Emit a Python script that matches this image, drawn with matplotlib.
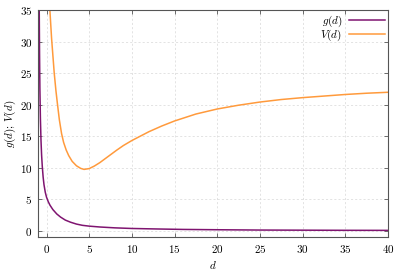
import matplotlib
matplotlib.use('Agg')
import matplotlib.pyplot as plt

plt.rcParams['font.family'] = 'cmr10'
plt.rcParams['mathtext.fontset'] = 'cm'
plt.rcParams['axes.formatter.use_mathtext'] = True

# values
g_d = [-0.857, -0.82, -0.78, -0.72, -0.65, -0.58, -0.5, -0.4, -0.3, -0.15, 0.0,
       0.2, 0.4, 0.74, 1.2, 1.65, 2.2, 2.8, 3.5, 4.2, 5.0, 6.3, 8.0, 10.0,
       13.0, 16.0, 20.0, 25.0, 30.0, 35.0, 40.0]
g_val = [35.0, 28.0, 22.5, 17.8, 14.3, 12.0, 10.2, 8.5, 7.3, 6.1, 5.3,
         4.6, 4.05, 3.35, 2.65, 2.15, 1.68, 1.35, 1.05, 0.85, 0.72, 0.58, 0.45, 0.35,
         0.27, 0.2, 0.15, 0.1, 0.08, 0.06, 0.05]

v_d = [0.39, 0.59, 0.9, 1.1, 1.26, 1.5, 1.76, 2.0, 2.3, 2.6, 3.0, 3.5, 4.0, 4.4,
       5.0, 5.6, 6.25, 6.9, 7.5, 8.2, 9.0, 10.0, 11.0, 12.0, 13.5, 15.0, 17.5, 20.0,
       22.5, 25.0, 27.5, 30.0, 32.5, 35.0, 37.5, 40.0]
v_val = [35.0, 30.5, 25.0, 22.2, 20.3, 17.6, 15.4, 14.0, 12.8, 11.9, 11.0, 10.3, 9.88, 9.72,
         9.85, 10.25, 10.8, 11.45, 12.05, 12.75, 13.5, 14.3, 15.0, 15.7, 16.6, 17.4, 18.5, 19.3,
         19.9, 20.4, 20.8, 21.1, 21.35, 21.6, 21.8, 21.95]

x_ticks = [0, 5, 10, 15, 20, 25, 30, 35, 40]
y_ticks = [0, 5, 10, 15, 20, 25, 30, 35]

purple = '#7f1470'
orange = '#ff9a3c'

fig = plt.figure(figsize=(4.07, 2.71), dpi=100)
ax = fig.add_axes([0.0934, 0.1255, 0.8596, 0.8376])

ax.plot(g_d, g_val, color=purple, lw=1.1, label='$g(d)$')
ax.plot(v_d, v_val, color=orange, lw=1.1, label='$V(d)$')

ax.set_xlim(-1, 40)
ax.set_ylim(-1, 35)
ax.set_xticks(x_ticks)
ax.set_yticks(y_ticks)
ax.tick_params(direction='in', top=True, right=True, labelsize=8,
               length=3, width=0.6, color='#555555', pad=4)
for s in ax.spines.values():
    s.set_color('#555555')
    s.set_linewidth(0.8)

ax.grid(True, ls=(0, (3, 3)), lw=0.5, color='#d8d8d8')
ax.set_axisbelow(True)

ax.set_xlabel('$d$', fontsize=8, labelpad=3)
ax.set_ylabel('$g(d)$; $V(d)$', fontsize=8, labelpad=1)

leg = ax.legend(loc='upper right', frameon=False, fontsize=8, markerfirst=False,
                handlelength=3.2, handletextpad=0.6, labelspacing=-0.1,
                borderaxespad=0.1, borderpad=0.2)
for t in leg.get_texts():
    t.set_ha('right')

fig.savefig('out.png', dpi=100)
